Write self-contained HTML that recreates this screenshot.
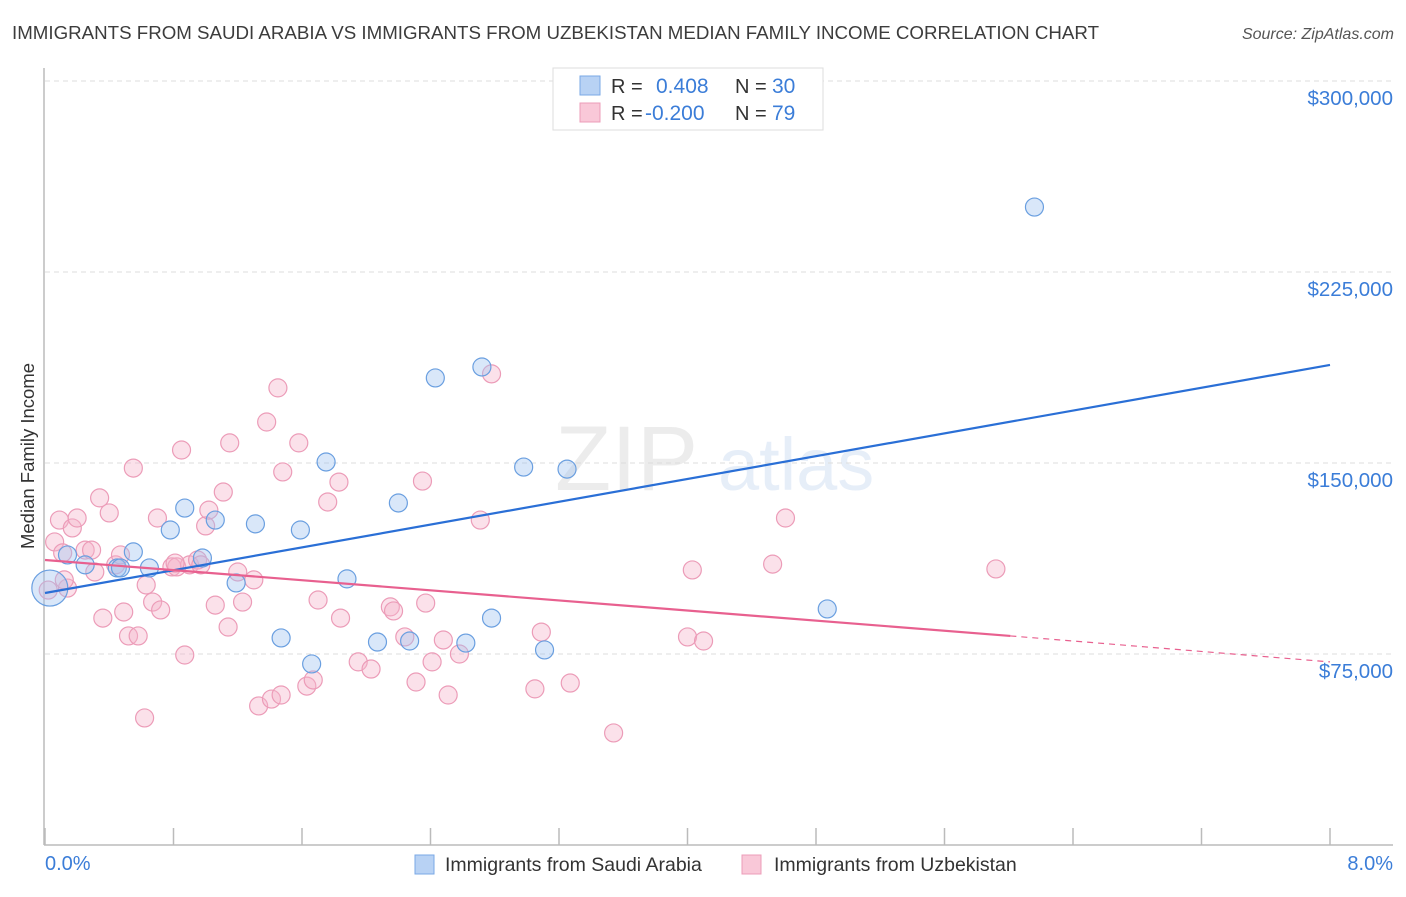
<!DOCTYPE html>
<html><head><meta charset="utf-8"><style>
body{margin:0;background:#fff;font-family:"Liberation Sans",sans-serif;}
svg text{font-family:"Liberation Sans",sans-serif;}
</style></head><body>
<svg id="chart" width="1406" height="892" viewBox="0 0 1406 892" xmlns="http://www.w3.org/2000/svg">
<text x="12" y="39" font-size="18.5" fill="#3c3c3c" textLength="1087" lengthAdjust="spacingAndGlyphs">IMMIGRANTS FROM SAUDI ARABIA VS IMMIGRANTS FROM UZBEKISTAN MEDIAN FAMILY INCOME CORRELATION CHART</text>
<text x="1394" y="39" font-size="16" fill="#555" font-style="italic" text-anchor="end">Source: ZipAtlas.com</text>
<g opacity="0.13">
<text x="555" y="490" font-size="92" font-family="Liberation Serif" fill="#777">ZIP</text>
<text x="718" y="490" font-size="74" fill="#4a7fd0">atlas</text>
</g>
<g id="grid"></g>
<g id="yticks"></g>
<line x1="44" y1="68" x2="44" y2="845" stroke="#bbb" stroke-width="1.5"/>
<line x1="44" y1="845" x2="1393" y2="845" stroke="#bbb" stroke-width="1.5"/>
<g id="xticks"></g>
<text transform="translate(34,456) rotate(-90)" font-size="18.5" fill="#333" text-anchor="middle">Median Family Income</text>
<text x="45" y="870" font-size="20" fill="#3b7dd8">0.0%</text>
<text x="1393" y="870" font-size="20" fill="#3b7dd8" text-anchor="end">8.0%</text>
<g id="pinkPts"></g>
<g id="bluePts"></g>
<g id="trends"></g>
<g>
<rect x="553" y="68" width="270" height="62" fill="#fff" stroke="#ddd"/>
<rect x="580" y="76" width="20" height="19" fill="#b8d2f4" stroke="#7aa8e6"/>
<rect x="580" y="103" width="20" height="19" fill="#f9c8d8" stroke="#ec9cb8"/>
<text x="611" y="93" font-size="20" fill="#333">R =</text>
<text x="656" y="93" font-size="21" fill="#3b7dd8">0.408</text>
<text x="735" y="93" font-size="20" fill="#333">N =</text>
<text x="772" y="93" font-size="21" fill="#3b7dd8">30</text>
<text x="611" y="120" font-size="20" fill="#333">R =</text>
<text x="645" y="120" font-size="21" fill="#3b7dd8">-0.200</text>
<text x="735" y="120" font-size="20" fill="#333">N =</text>
<text x="772" y="120" font-size="21" fill="#3b7dd8">79</text>
</g>
<g>
<rect x="415" y="855" width="19" height="19" fill="#b8d2f4" stroke="#7aa8e6"/>
<text x="445" y="871" font-size="19.5" fill="#333">Immigrants from Saudi Arabia</text>
<rect x="742" y="855" width="19" height="19" fill="#f9c8d8" stroke="#ec9cb8"/>
<text x="774" y="871" font-size="19.5" fill="#333">Immigrants from Uzbekistan</text>
</g>
</svg>
<script>
const yTicks=[75000,150000,225000,300000];
const yTickLabels=["$75,000","$150,000","$225,000","$300,000"];
const xTicks=[0,0.8,1.6,2.4,3.2,4,4.8,5.6,6.4,7.2,8];
const blueX=[0.03,0.14,0.25,0.55,0.45,0.65,0.78,0.87,0.98,1.06,1.19,1.31,1.47,1.59,1.66,1.75,1.88,2.07,2.20,2.27,2.43,2.62,2.72,2.78,2.98,3.11,3.25,4.87,6.16,0.47];
const blueY=[100900,113900,110000,115100,108800,108800,123700,132300,112700,127600,102900,126100,81300,123700,71100,150400,104500,79700,134300,80100,183400,79300,187700,89100,148400,76600,147600,92700,250500,108800];
const blueR=[18,9,9,9,9,9,9,9,9,9,9,9,9,9,9,9,9,9,9,9,9,9,9,9,9,9,9,9,9,9];
const pinkX=[0.02,0.06,0.09,0.11,0.17,0.14,0.20,0.25,0.29,0.31,0.34,0.36,0.40,0.44,0.49,0.52,0.55,0.58,0.62,0.63,0.67,0.70,0.72,0.79,0.82,0.85,0.87,0.90,0.95,0.97,1.00,1.02,1.06,1.11,1.14,1.15,1.20,1.23,1.30,1.33,1.38,1.41,1.45,1.47,1.48,1.58,1.63,1.67,1.70,1.76,1.83,1.84,1.95,2.03,2.15,2.17,2.24,2.31,2.35,2.37,2.41,2.48,2.51,2.58,2.71,2.78,3.05,3.09,3.27,3.54,4.00,4.03,4.10,4.53,4.61,5.92,0.12,0.47,0.81];
const pinkY=[100100,119000,127600,114700,124500,100900,128400,115800,115800,107200,136300,89100,130400,110000,91500,82100,148000,82100,49900,102100,95400,128400,92300,109200,109200,155100,74600,110000,111900,110000,125300,131500,94200,138600,85600,157900,107200,95400,104100,54600,166100,57300,179500,58900,146500,157900,62400,64800,96200,134700,142500,89100,71900,69100,93500,91900,81700,64000,142900,95000,71900,80500,58900,75000,127600,185000,61300,83600,63600,44000,81700,108000,80100,110300,128400,108400,104100,113900,110700];
const blueTrendX=[0,8];
const blueTrendY=[98950,188500];
const pinkTrendX=[0,6.01];
const pinkTrendY=[111900,82100];
const pinkDashX=[6.01,8];
const pinkDashY=[82100,71900];

const NS="http://www.w3.org/2000/svg";
const X=v=>45+v*(1330-45)/8;
const Y=v=>654-(v-75000)*191/75000;
function mk(tag,attrs,parent){const e=document.createElementNS(NS,tag);for(const k in attrs)e.setAttribute(k,attrs[k]);parent.appendChild(e);return e;}
const grid=document.getElementById('grid'),yt=document.getElementById('yticks'),xt=document.getElementById('xticks');
yTicks.forEach((t,i)=>{
  const l=mk('line',{x1:45,x2:1393,y1:Y(t),y2:Y(t),stroke:'#ddd','stroke-dasharray':'5,4'},grid);
  
  
  const tx=mk('text',{x:1393,y:Y(t)+24,'font-size':20.5,fill:'#3b7dd8','text-anchor':'end'},yt);
  tx.textContent=yTickLabels[i];
  
  
});
xTicks.forEach(t=>{
  const l=mk('line',{x1:X(t),x2:X(t),y1:828,y2:845,stroke:'#bbb','stroke-width':1.5},xt);
  
  
});
const pg=document.getElementById('pinkPts');
pinkX.forEach((x,i)=>{
  const c=mk('circle',{cx:X(x),cy:Y(pinkY[i]),r:9,fill:'rgba(246,180,203,0.4)',stroke:'#ec9cb8','stroke-width':1.2},pg);
  
  
});
const bg=document.getElementById('bluePts');
blueX.forEach((x,i)=>{
  const c=mk('circle',{cx:X(x),cy:Y(blueY[i]),r:blueR[i],fill:'rgba(160,196,240,0.4)',stroke:'#6a9fe0','stroke-width':1.2},bg);
  
  
});
const tg=document.getElementById('trends');
const b=mk('line',{x1:X(blueTrendX[0]),y1:Y(blueTrendY[0]),x2:X(blueTrendX[1]),y2:Y(blueTrendY[1]),stroke:'#2a6fd6','stroke-width':2.2},tg);


const p=mk('line',{x1:X(pinkTrendX[0]),y1:Y(pinkTrendY[0]),x2:X(pinkTrendX[1]),y2:Y(pinkTrendY[1]),stroke:'#e8608f','stroke-width':2.2},tg);


const pd=mk('line',{x1:X(pinkDashX[0]),y1:Y(pinkDashY[0]),x2:X(pinkDashX[1]),y2:Y(pinkDashY[1]),stroke:'#e8608f','stroke-width':1.2,'stroke-dasharray':'6,5'},tg);


</script>
</body></html>
